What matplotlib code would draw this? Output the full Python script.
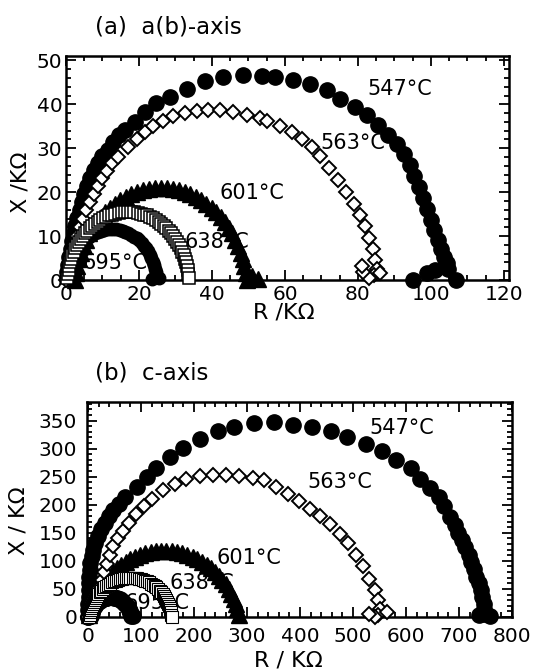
import matplotlib
matplotlib.use("Agg")
import matplotlib.pyplot as plt
from matplotlib.ticker import MultipleLocator

# ---------------- panel (a): a(b)-axis, R and X in kOhm ----------------
a547_R = [0.3,0.6,0.9,1.3,1.7,2.1,2.6,3.1,3.7,4.3,5.0,5.8,6.7,7.7,8.8,10.0,11.4,13.0,14.6,16.2,18.9,21.6,24.8,28.5,33.1,38.1,43.1,48.6,53.7,57.3,62.2,66.8,71.5,75.1,79.2,82.5,85.5,88.2,90.7,92.7,94.2,95.5,96.6,97.7,98.8,99.9,100.9,101.9,102.8,103.6,104.3,104.8,101.0,99.0,95.0,107.0]
a547_X = [1.8,3.5,5.2,7.0,8.8,10.6,12.4,14.2,16.0,17.8,19.6,21.4,23.2,25.0,26.7,28.2,29.7,31.4,32.9,34.1,36.0,38.3,40.2,41.7,43.6,45.3,46.2,46.6,46.5,46.2,45.6,44.7,43.2,41.3,39.4,37.5,35.2,33.0,31.0,28.6,26.1,23.6,21.1,18.6,16.1,13.6,11.3,9.1,7.1,5.3,3.9,2.6,2.2,1.6,0.0,0.0]

a563_R = [0.0,0.5,1.0,1.6,2.3,3.0,3.8,4.7,5.6,6.6,7.6,8.7,9.9,11.2,12.7,14.3,17.1,19.4,21.6,23.9,26.7,29.4,32.6,35.8,39.0,42.2,45.8,49.5,53.2,55.0,58.6,61.8,64.6,67.3,69.6,72.0,74.6,76.8,78.8,80.5,81.9,83.1,84.0,84.8,85.2,84.5,83.0,81.5,81.0,86.0]
a563_X = [0.0,2.0,4.0,6.0,8.0,10.0,12.0,14.0,16.0,17.8,19.6,21.4,23.2,24.9,26.6,28.0,30.3,32.1,33.6,35.0,36.3,37.3,38.0,38.5,38.7,38.6,38.2,37.6,36.8,36.2,35.0,33.6,32.1,30.3,28.2,25.6,22.8,20.1,17.4,14.8,12.2,9.6,7.0,4.6,2.6,1.2,0.4,1.8,3.2,1.5]

a601_R = [2.5,2.8,3.1,3.6,4.1,4.8,5.6,6.4,7.4,8.5,9.6,10.8,12.1,13.5,14.9,16.4,17.9,19.5,21.1,22.7,24.4,26.0,27.6,29.3,30.9,32.5,34.1,35.6,37.1,38.5,39.9,41.2,42.4,43.5,44.6,45.6,46.4,47.2,47.9,48.4,48.9,49.2,49.5,51.0,52.5]
a601_X = [0.0,1.5,3.1,4.7,6.2,7.7,9.2,10.6,11.9,13.2,14.4,15.5,16.5,17.4,18.2,19.0,19.6,20.1,20.5,20.8,20.9,21.0,20.9,20.8,20.5,20.1,19.6,19.0,18.2,17.4,16.5,15.5,14.4,13.2,11.9,10.6,9.2,7.7,6.2,4.7,3.1,1.5,0.0,0.8,0.3]

a638_R = [0.4,0.5,0.7,0.9,1.1,1.4,1.7,2.1,2.5,3.0,3.5,4.0,4.6,5.2,5.8,6.5,7.2,7.9,8.7,9.4,10.2,11.0,11.8,12.7,13.5,14.4,15.3,16.1,17.0,17.9,18.7,19.6,20.5,21.3,22.2,23.0,23.8,24.6,25.4,26.1,26.8,27.5,28.2,28.8,29.4,30.0,30.5,31.0,31.5,31.9,32.3,32.6,32.9,33.1,33.3,33.5,33.6]
a638_X = [0.5,1.4,2.3,3.1,4.0,4.8,5.6,6.4,7.2,7.9,8.6,9.3,10.0,10.6,11.2,11.8,12.3,12.8,13.3,13.7,14.1,14.4,14.7,14.9,15.1,15.3,15.4,15.5,15.5,15.5,15.4,15.3,15.1,14.9,14.7,14.4,14.1,13.7,13.3,12.8,12.3,11.8,11.2,10.6,10.0,9.3,8.6,7.9,7.2,6.4,5.6,4.8,4.0,3.1,2.3,1.4,0.5]

a695_R = [0.2,0.4,0.6,0.9,1.2,1.6,2.0,2.5,3.0,3.6,4.2,4.9,5.6,6.3,7.1,7.9,8.7,9.5,10.3,11.2,12.1,12.9,13.8,14.7,15.5,16.3,17.1,17.9,18.7,19.4,20.1,20.8,21.4,22.0,22.5,23.0,23.4,23.8,24.1,24.4,24.6,24.8,25.5,23.5]
a695_X = [0.9,1.8,2.6,3.4,4.2,5.0,5.8,6.5,7.2,7.8,8.4,9.0,9.5,9.9,10.3,10.7,11.0,11.2,11.4,11.5,11.6,11.6,11.5,11.4,11.2,11.0,10.7,10.3,9.9,9.5,9.0,8.4,7.8,7.2,6.5,5.8,5.0,4.2,3.4,2.6,1.8,0.9,0.4,0.3]

# ---------------- panel (b): c-axis ----------------
b547_R = [0.0,0.4,0.8,1.2,1.6,2.0,2.5,3.2,4.5,7.0,10.0,14.0,19.0,25.0,32.0,40.0,48.0,58.0,69.5,91.5,110.3,129.1,154.1,179.1,210.5,244.9,276.3,313.9,351.5,385.9,423.5,458.0,489.3,523.9,555.1,580.3,608.5,627.3,646.1,661.7,672.0,683.6,692.0,699.0,705.0,711.8,718.0,723.0,728.0,733.0,737.0,741.0,744.0,746.5,748.0,747.0,738.0,758.0]
b547_X = [0.0,12.0,24.0,36.0,48.0,60.0,72.0,84.0,96.0,108.0,120.0,132.0,144.0,156.0,168.0,180.0,190.0,202.0,213.7,231.4,249.2,265.9,284.7,301.4,317.4,332.1,339.3,345.1,346.5,342.8,338.0,330.9,321.5,308.5,295.4,278.9,265.9,246.4,230.4,213.7,198.0,178.2,164.0,150.0,137.0,124.0,111.0,98.0,86.0,72.0,60.0,48.0,36.0,24.0,14.0,5.0,3.0,2.0]

b563_R = [0.0,4.0,8.0,12.0,16.0,21.0,26.0,31.0,36.0,41.0,47.6,56.0,66.0,78.0,91.0,105.0,120.0,141.5,163.5,185.5,210.5,235.5,260.7,285.7,310.7,332.7,355.0,378.0,398.0,418.0,437.0,457.0,475.0,491.0,506.0,519.0,531.0,541.0,548.0,551.0,548.0,541.0,531.0,565.0]
b563_X = [0.0,7.0,16.0,27.0,39.0,52.0,66.0,80.0,95.0,110.0,127.0,141.0,154.0,168.0,183.0,197.0,211.0,226.8,237.5,246.4,251.0,252.2,253.5,251.0,247.4,243.3,232.0,219.0,206.0,193.0,180.0,165.0,148.0,131.0,111.0,90.0,67.0,48.0,30.0,15.0,4.0,0.0,6.0,9.0]

b601_R = [1.8,4.2,7.3,11.1,15.5,20.5,26.2,32.4,39.1,46.4,54.1,62.3,70.8,79.7,88.9,98.4,108.1,117.9,127.9,138.0,148.0,158.1,168.1,177.9,187.6,197.1,206.3,215.2,223.7,231.9,239.6,246.9,253.6,259.8,265.5,270.5,274.9,278.7,281.8,284.2]
b601_X = [3.6,13.4,23.0,32.3,41.4,50.1,58.5,66.4,73.9,80.9,87.4,93.3,98.7,103.4,107.5,110.9,113.7,115.8,117.2,117.9,117.9,117.2,115.8,113.7,110.9,107.5,103.4,98.7,93.3,87.4,80.9,73.9,66.4,58.5,50.1,41.4,32.3,23.0,13.4,3.6]

b638_R = [2.4,3.0,3.7,4.7,5.8,7.2,8.7,10.5,12.5,14.6,16.9,19.4,22.0,24.8,27.8,30.9,34.2,37.5,41.0,44.6,48.3,52.0,55.9,59.8,63.8,67.8,71.9,75.9,80.0,84.1,88.2,92.2,96.2,100.2,104.1,108.0,111.7,115.4,119.0,122.5,125.8,129.1,132.2,135.2,138.0,140.6,143.1,145.4,147.5,149.5,151.3,152.8,154.2,155.3,156.3,157.0,157.6]
b638_X = [0.2,4.2,8.2,12.2,16.1,20.0,23.7,27.4,31.0,34.5,37.8,41.1,44.2,47.2,50.0,52.6,55.1,57.4,59.5,61.5,63.3,64.8,66.2,67.3,68.3,69.0,69.6,69.9,70.0,69.9,69.6,69.0,68.3,67.3,66.2,64.8,63.3,61.5,59.5,57.4,55.1,52.6,50.0,47.2,44.2,41.1,37.8,34.5,31.0,27.4,23.7,20.0,16.1,12.2,8.2,4.2,0.2]

b695_R = [0.0,2.0,5.4,5.8,6.5,7.3,8.3,9.5,10.8,12.3,13.9,15.7,17.6,19.6,21.8,24.0,26.3,28.8,31.3,33.8,36.4,39.0,41.7,44.3,47.0,49.6,52.2,54.7,57.2,59.7,62.0,64.3,66.4,68.4,70.3,72.1,73.7,75.2,76.6,77.7,78.7,79.5,80.2,80.6,84.0]
b695_X = [0.0,3.0,2.3,4.9,7.5,10.0,12.5,14.8,17.1,19.3,21.4,23.4,25.2,26.9,28.5,29.9,31.2,32.2,33.1,33.9,34.4,34.8,35.0,35.0,34.8,34.4,33.9,33.1,32.2,31.2,29.9,28.5,26.9,25.2,23.4,21.4,19.3,17.1,14.8,12.5,10.0,7.5,4.9,2.3,1.0]

labels_T = ["547°C", "563°C", "601°C", "638°C", "695°C"]

W, H = 535, 672
fig = plt.figure(figsize=(W / 100, H / 100), dpi=100)

def ax_rect(l, t, r, b):
    return [l / W, 1 - b / H, (r - l) / W, (b - t) / H]

axA = fig.add_axes(ax_rect(66, 56, 509, 280))
axB = fig.add_axes(ax_rect(87, 402, 512, 617))

def style(ax, xmaj, xmin, ymaj, ymin, xpad, ypad):
    ax.xaxis.set_major_locator(MultipleLocator(xmaj))
    ax.xaxis.set_minor_locator(MultipleLocator(xmin))
    ax.yaxis.set_major_locator(MultipleLocator(ymaj))
    ax.yaxis.set_minor_locator(MultipleLocator(ymin))
    ax.tick_params(which="both", direction="in", top=True, right=True, width=1.3, color="black")
    ax.tick_params(which="major", length=7)
    ax.tick_params(which="minor", length=3.5)
    ax.tick_params(axis="x", which="major", labelsize=14.5, pad=xpad)
    ax.tick_params(axis="y", which="major", labelsize=14.5, pad=ypad)
    for s in ax.spines.values():
        s.set_linewidth(1.8)

def draw(ax, d547, d563, d601, d638, d695, sizes, sq_mew):
    s547, s563, s601, s638, s695 = sizes
    ax.plot(d547[0], d547[1], "o", ms=s547, mfc="black", mec="black", ls="none", zorder=3, clip_on=False)
    ax.plot(d563[0], d563[1], "D", ms=s563, mfc="white", mec="black", mew=1.4, ls="none", zorder=4, clip_on=False)
    ax.plot(d601[0], d601[1], "^", ms=s601, mfc="black", mec="black", ls="none", zorder=3, clip_on=False)
    ax.plot(d695[0], d695[1], "o", ms=s695, mfc="black", mec="black", ls="none", zorder=3, clip_on=False)
    ax.plot(d638[0], d638[1], "s", ms=s638, mfc="white", mec="black", mew=sq_mew, ls="none", zorder=5, clip_on=False)

# Panel (a)
draw(axA, (a547_R, a547_X), (a563_R, a563_X), (a601_R, a601_X), (a638_R, a638_X), (a695_R, a695_X),
     (11, 7, 12, 8, 9), 1.1)
axA.set_xlim(0, 121.4)
axA.set_ylim(0, 51)
style(axA, 20, 5, 10, 2, 3.5, 2.5)
for txt, (x, y) in zip(labels_T, [(82.5, 43.6), (69.6, 31.1), (42.2, 19.8), (32.6, 8.6), (4.4, 3.9)]):
    axA.text(x, y, txt, fontsize=15, ha="left", va="center", zorder=1)

# Panel (b)
draw(axB, (b547_R, b547_X), (b563_R, b563_X), (b601_R, b601_X), (b638_R, b638_X), (b695_R, b695_X),
     (11, 7, 12, 8, 11), 0.8)
axB.set_xlim(-2, 800)
axB.set_ylim(0, 383)
style(axB, 100, 20, 50, 10, 7, 7)
for txt, (x, y) in zip(labels_T, [(530, 337.5), (413.5, 240), (242.5, 105), (154, 60), (69.5, 25)]):
    axB.text(x, y, txt, fontsize=15, ha="left", va="center", zorder=1)

# titles and axis labels
fig.text(95 / W, 1 - 33 / H, "(a)  a(b)-axis", fontsize=16.5, ha="left", va="baseline")
fig.text(95 / W, 1 - 380 / H, "(b)  c-axis", fontsize=16.5, ha="left", va="baseline")
fig.text(21 / W, 1 - 182 / H, "X /KΩ", fontsize=16, rotation=90, ha="center", va="center")
fig.text(284 / W, 1 - 312 / H, "R /KΩ", fontsize=16, ha="center", va="center")
fig.text(18 / W, 1 - 521 / H, "X / KΩ", fontsize=16, rotation=90, ha="center", va="center")
fig.text(288 / W, 1 - 661 / H, "R / KΩ", fontsize=16, ha="center", va="center")

fig.savefig("out.png", dpi=100)
